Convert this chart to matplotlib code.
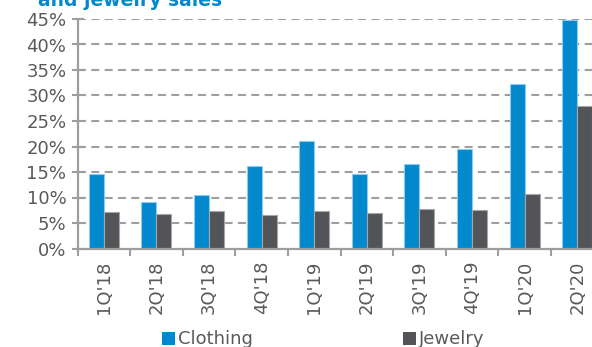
import matplotlib
matplotlib.use("Agg")
import matplotlib.pyplot as plt
from matplotlib.patches import Patch
import numpy as np

categories = ["1Q'18", "2Q'18", "3Q'18", "4Q'18", "1Q'19", "2Q'19", "3Q'19", "4Q'19", "1Q'20", "2Q'20"]
clothing = [14.6, 9.2, 10.4, 16.2, 21.1, 14.6, 16.5, 19.6, 32.2, 44.8]
jewelry = [7.1, 6.8, 7.3, 6.6, 7.4, 6.9, 7.7, 7.5, 10.7, 27.9]
yticks = [0, 5, 10, 15, 20, 25, 30, 35, 40, 45]
title = "and jewelry sales"

blue = "#0288CC"
dark = "#525457"
grid_c = "#9E9E9E"
text_c = "#595959"

W, H = 592, 347
fig = plt.figure(figsize=(W / 100, H / 100), dpi=100)
ax = fig.add_axes([77.5 / W, 1 - 248.5 / H, 526 / W, (248.5 - 19) / H])

x = np.arange(len(categories))
bw = 0.285
ax.bar(x - bw / 2, clothing, bw, color=blue, edgecolor="#8cccee", linewidth=0.8, zorder=3)
ax.bar(x + bw / 2, jewelry, bw, color=dark, edgecolor="#a6a6a6", linewidth=0.8, zorder=3)

ax.set_xlim(-0.5, len(categories) - 0.5)
ax.set_ylim(0, 45)
ax.set_yticks(yticks)
ax.set_yticklabels([f"{v}%" for v in yticks], fontsize=13, color=text_c)
for v in yticks[1:]:
    ax.axhline(v, color=grid_c, linestyle=(0, (3.8, 2.6)), linewidth=1.5, zorder=1)

ax.set_xticks(x)
ax.set_xticklabels(categories, rotation=90, fontsize=13, color=text_c)
ax.set_xticks(np.arange(len(categories) + 1) - 0.5, minor=True)
ax.tick_params(axis="x", which="major", length=0, pad=9)
ax.tick_params(axis="x", which="minor", length=5, width=1.5, color=grid_c, direction="out")
ax.tick_params(axis="y", length=8, width=1.5, color=grid_c, direction="inout", pad=4)

for s in ["top", "right"]:
    ax.spines[s].set_visible(False)
for s in ["left", "bottom"]:
    ax.spines[s].set_color(grid_c)
    ax.spines[s].set_linewidth(1.6)
ax.spines["bottom"].set_zorder(4)

fig.text(38 / W, 1 - 5.5 / H, title, fontsize=13.5, fontweight="bold", color=blue, va="baseline", ha="left")

handles = [Patch(facecolor=blue, edgecolor="none"), Patch(facecolor=dark, edgecolor="none")]
fig.legend(handles, ["Clothing", "Jewelry"], loc="center left", bbox_to_anchor=(162 / W, 1 - 339.5 / H),
           ncol=2, frameon=False, fontsize=13, labelcolor=text_c, handlelength=0.7, handleheight=0.7,
           handletextpad=0.2, columnspacing=8.3, borderpad=0, borderaxespad=0)

fig.savefig("out.png", dpi=100)
